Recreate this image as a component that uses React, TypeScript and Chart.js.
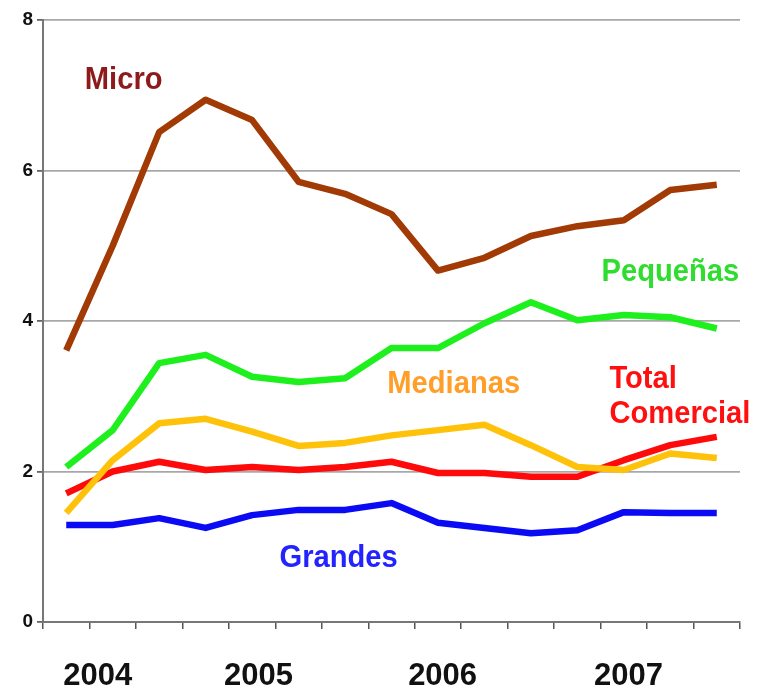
import React, { useEffect, useRef } from "react";
import { Chart, registerables } from "chart.js";

Chart.register(...registerables);

const categories = [
  "II-04", "III-04", "IV-04",
  "I-05", "II-05", "III-05", "IV-05",
  "I-06", "II-06", "III-06", "IV-06",
  "I-07", "II-07", "III-07", "IV-07",
];

const micro = [3.61, 5.0, 6.51, 6.94, 6.67, 5.85, 5.69, 5.42, 4.67, 4.84, 5.13, 5.26, 5.34, 5.74, 5.81];
const pequenas = [2.06, 2.55, 3.44, 3.55, 3.26, 3.19, 3.24, 3.64, 3.64, 3.97, 4.25, 4.01, 4.08, 4.05, 3.9];
const medianas = [1.45, 2.15, 2.64, 2.7, 2.53, 2.34, 2.38, 2.48, 2.55, 2.62, 2.35, 2.06, 2.02, 2.24, 2.18];
const totalComercial = [1.71, 2.0, 2.13, 2.02, 2.06, 2.02, 2.06, 2.13, 1.98, 1.98, 1.93, 1.93, 2.15, 2.35, 2.46];
const grandes = [1.29, 1.29, 1.38, 1.25, 1.42, 1.49, 1.49, 1.58, 1.32, 1.25, 1.18, 1.22, 1.46, 1.45, 1.45];

const yearLabels = ["2004", "2005", "2006", "2007"];
const yearPositions = [0.68, 4.14, 8.1, 12.1];

const yTicks = [0, 2, 4, 6, 8];

const seriesLabels = [
  { text: "Micro", x: 0.4, y: 7.08, color: "#8E1B1B" },
  { text: "Pequeñas", x: 11.52, y: 4.53, color: "#2FDD2F" },
  { text: "Medianas", x: 6.91, y: 3.04, color: "#FF9F2A" },
  { text: "Total", x: 11.69, y: 3.11, color: "#FF1010" },
  { text: "Comercial", x: 11.69, y: 2.64, color: "#FF1010" },
  { text: "Grandes", x: 4.59, y: 0.73, color: "#2323FF" },
];

const FONT = "'Liberation Sans', Arial, sans-serif";
const LABEL_SQUEEZE = 0.94;

const labelPlugin = {
  id: "seriesLabels",
  afterDatasetsDraw(chart: any) {
    const ctx = chart.ctx;
    const xs = chart.scales.x2;
    const ys = chart.scales.y;
    ctx.save();
    ctx.font = `bold 31px ${FONT}`;
    ctx.textAlign = "left";
    ctx.textBaseline = "alphabetic";
    for (const l of seriesLabels) {
      const px = xs.getPixelForValue(l.x);
      const py = ys.getPixelForValue(l.y);
      ctx.save();
      ctx.translate(px, py);
      ctx.scale(LABEL_SQUEEZE, 1);
      ctx.fillStyle = l.color;
      ctx.fillText(l.text, 0, 0);
      ctx.restore();
    }
    ctx.restore();
  },
};

export default function App() {
  const ref = useRef<HTMLCanvasElement | null>(null);

  useEffect(() => {
    document.body.style.margin = "0";
    const canvas = ref.current;
    if (!canvas) return;
    const ds = (label: string, data: number[], color: string) => ({
      label,
      data,
      borderColor: color,
      backgroundColor: color,
      borderWidth: 6.5,
      pointRadius: 0,
      tension: 0,
      fill: false,
      borderJoinStyle: "round" as const,
      borderCapStyle: "butt" as const,
    });
    const chart = new Chart(canvas, {
      type: "line",
      data: {
        labels: categories,
        datasets: [
          ds("Grandes", grandes, "#0A0AF5"),
          ds("Medianas", medianas, "#FFC20A"),
          ds("Total Comercial", totalComercial, "#FF0A0A"),
          ds("Pequeñas", pequenas, "#1EF01E"),
          ds("Micro", micro, "#A13A04"),
        ],
      },
      options: {
        responsive: false,
        animation: false,
        layout: { padding: { left: 0, right: 17, top: 20, bottom: 0 } },
        plugins: {
          legend: { display: false },
          tooltip: { enabled: false },
        },
        scales: {
          x: {
            type: "category",
            position: "bottom",
            weight: 0,
            offset: true,
            grid: {
              offset: true,
              drawOnChartArea: false,
              drawTicks: true,
              tickLength: 7,
              color: "#555",
              lineWidth: 1.5,
            },
            border: { display: true, color: "#777", width: 2 },
            ticks: { display: false },
            afterFit: (s: any) => {
              s.height = 10;
            },
          },
          x2: {
            type: "linear",
            position: "bottom",
            weight: 1,
            min: -0.5,
            max: 14.5,
            grid: { display: false },
            border: { display: false },
            afterBuildTicks: (s: any) => {
              s.ticks = yearPositions.map((v) => ({ value: v }));
            },
            ticks: {
              autoSkip: false,
              maxRotation: 0,
              padding: 18,
              color: "#111",
              font: { family: FONT, size: 31, weight: "bold" },
              callback: (_v: any, i: number) => yearLabels[i],
            },
            afterFit: (s: any) => {
              s.height = 58;
            },
          },
          y: {
            min: 0,
            max: 8,
            afterBuildTicks: (s: any) => {
              s.ticks = yTicks.map((v) => ({ value: v }));
            },
            grid: {
              color: "#a8a8a8",
              lineWidth: 1.8,
              drawTicks: true,
              tickLength: 6,
              tickColor: "#666",
            },
            border: { display: true, color: "#777", width: 2 },
            ticks: {
              padding: 4,
              color: "#111",
              font: { family: FONT, size: 19, weight: "bold" },
            },
            afterFit: (s: any) => {
              s.width = 43;
            },
          },
        },
      },
      plugins: [labelPlugin],
    });
    return () => chart.destroy();
  }, []);

  return (
    <div style={{ width: 757, height: 690, background: "#fff" }}>
      <canvas ref={ref} width={757} height={690} />
    </div>
  );
}
